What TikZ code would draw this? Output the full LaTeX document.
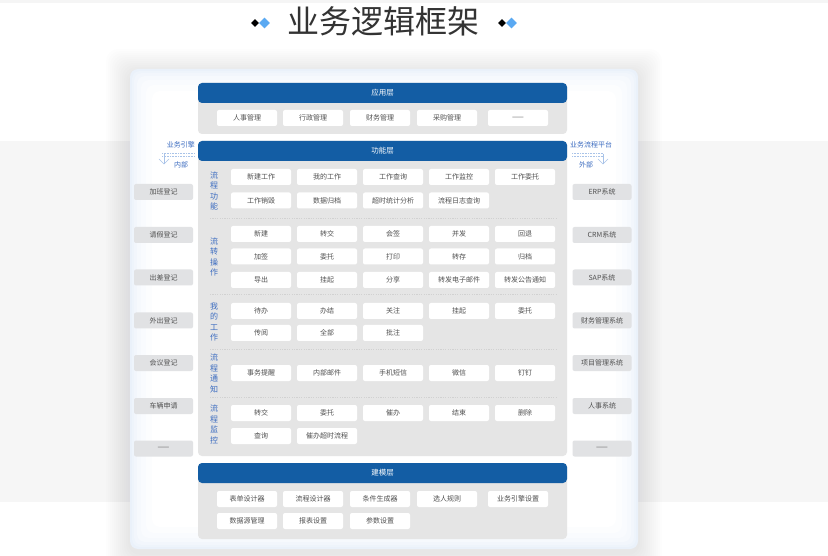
\documentclass[tikz,border=0pt]{standalone}
\usepackage{fontspec}
\setmainfont{Noto Sans CJK SC}
\usetikzlibrary{shapes.geometric}
\definecolor{hdrblue}{HTML}{135DA4}
\definecolor{bodygray}{HTML}{E5E5E5}
\definecolor{txtgray}{HTML}{505050}
\definecolor{lblblue}{HTML}{3C6CC0}
\definecolor{sidegray}{HTML}{E1E2E4}
\definecolor{bandgray}{HTML}{F6F6F6}
\definecolor{edgeblue}{HTML}{EAF1FA}
\definecolor{dotblue}{HTML}{A9C3E8}
\definecolor{diablue}{HTML}{5AA9F2}
\tikzset{
  cell/.style={fill=white, rounded corners=2pt, minimum width=60pt, minimum height=16pt, inner sep=0pt, font=\fontsize{7}{8}\selectfont, text=txtgray},
  sidebox/.style={fill=sidegray, rounded corners=2pt, minimum width=59pt, minimum height=16pt, inner sep=0pt, font=\fontsize{7}{8}\selectfont, text=txtgray},
  hdrtext/.style={text=white, font=\fontsize{7.5}{8}\selectfont},
  vlabel/.style={text=lblblue, align=center, font=\fontsize{8}{10.5}\selectfont, inner sep=0pt},
  sidelabel/.style={text=lblblue, font=\fontsize{7}{8}\selectfont, inner sep=0pt},
  sep/.style={draw=black!18, dash pattern=on 1.2pt off 1.2pt, line width=0.5pt},
  layerbody/.style={fill=bodygray, rounded corners=4pt},
  layerhead/.style={fill=hdrblue},
  titlefont/.style={font=\fontsize{32}{34}\selectfont, text=black!80},
  dia/.style={diamond, inner sep=0pt}
}
\begin{document}
\begin{tikzpicture}[x=1pt, y=-1pt]
\useasboundingbox (0,0) rectangle (828,556);
\fill[white] (0,0) rectangle (828,556);
\fill[black!4] (0,0) rectangle (828,3);
\fill[bandgray] (0,141) rectangle (828,502);
% card shadow (soft)
\foreach \i in {2,4,...,24}{
  \fill[black!60!blue, opacity=0.007, rounded corners=12pt] (130-\i,69-\i+4) rectangle (638+\i,549+\i+4);
}
\fill[edgeblue, rounded corners=8pt] (130,69) rectangle (638,549);
\foreach \i/\c in {2/80,4/62,7/45,11/28,16/14,22/0}{
  \fill[edgeblue!\c!white, rounded corners=8pt] (130+\i,69+\i) rectangle (638-\i,549-\i);
}
% title
\node[titlefont] (title) at (383,21) {业务逻辑框架};
\node[dia, fill=black, minimum size=8pt] (dl1) at (255,23) {};
\node[dia, fill=diablue, minimum size=11pt] (dl2) at (264.5,23) {};
\node[dia, fill=black, minimum size=8pt] (dr1) at (502,23) {};
\node[dia, fill=diablue, minimum size=11pt] (dr2) at (511.5,23) {};
% application layer
\fill[layerbody] (198,83) rectangle (567,134);
\fill[layerhead, rounded corners=4pt] (198,103) -- (198,83) -- (567,83) -- (567,103) -- cycle;
\node[hdrtext] (apph) at (382.5,93) {应用层};
\foreach \n/\x/\t in {a1/247/人事管理, a2/313/行政管理, a3/380/财务管理, a4/447/采购管理, a5/518/——}{
  \node[cell] (\n) at (\x,118) {\t};
}
% function layer
\fill[layerbody] (198,141) rectangle (567,456);
\fill[layerhead, rounded corners=4pt] (198,161) -- (198,141) -- (567,141) -- (567,161) -- cycle;
\node[hdrtext] (funh) at (382.5,151) {功能层};
% vertical labels
\node[vlabel] (v1) at (214,191) {流\\程\\功\\能};
\node[vlabel] (v2) at (214,257) {流\\转\\操\\作};
\node[vlabel] (v3) at (214,322) {我\\的\\工\\作};
\node[vlabel] (v4) at (214,373.5) {流\\程\\通\\知};
\node[vlabel] (v5) at (214,424.5) {流\\程\\监\\控};
% separators
\foreach \y in {218,294,349,397}{ \draw[sep] (210,\y) -- (556,\y); }
% rows
\foreach \n/\x/\t in {f11/261/新建工作, f12/327/我的工作, f13/393/工作查询, f14/459/工作监控, f15/525/工作委托}{\node[cell] (\n) at (\x,177) {\t};}
\foreach \n/\x/\t in {f21/261/工作销毁, f22/327/数据归档, f23/393/超时统计分析, f24/459/流程日志查询}{\node[cell] (\n) at (\x,200.5) {\t};}
\foreach \n/\x/\t in {g11/261/新建, g12/327/转交, g13/393/会签, g14/459/并发, g15/525/回退}{\node[cell] (\n) at (\x,234) {\t};}
\foreach \n/\x/\t in {g21/261/加签, g22/327/委托, g23/393/打印, g24/459/转存, g25/525/归档}{\node[cell] (\n) at (\x,256.5) {\t};}
\foreach \n/\x/\t in {g31/261/导出, g32/327/挂起, g33/393/分享, g34/459/转发电子邮件, g35/525/转发公告通知}{\node[cell] (\n) at (\x,280) {\t};}
\foreach \n/\x/\t in {m11/261/待办, m12/327/办结, m13/393/关注, m14/459/挂起, m15/525/委托}{\node[cell] (\n) at (\x,311) {\t};}
\foreach \n/\x/\t in {m21/261/传阅, m22/327/全部, m23/393/批注}{\node[cell] (\n) at (\x,333) {\t};}
\foreach \n/\x/\t in {t11/261/事务提醒, t12/327/内部邮件, t13/393/手机短信, t14/459/微信, t15/525/钉钉}{\node[cell] (\n) at (\x,373) {\t};}
\foreach \n/\x/\t in {c11/261/转交, c12/327/委托, c13/393/催办, c14/459/结束, c15/525/删除}{\node[cell] (\n) at (\x,413) {\t};}
\foreach \n/\x/\t in {c21/261/查询, c22/327/催办超时流程}{\node[cell] (\n) at (\x,436) {\t};}
% modeling layer
\fill[layerbody] (198,463) rectangle (567,539);
\fill[layerhead, rounded corners=4pt] (198,483) -- (198,463) -- (567,463) -- (567,483) -- cycle;
\node[hdrtext] (modh) at (382.5,473) {建模层};
\foreach \n/\x/\t in {b11/247/表单设计器, b12/313/流程设计器, b13/380/条件生成器, b14/447/选人规则, b15/518/业务引擎设置}{\node[cell] (\n) at (\x,499) {\t};}
\foreach \n/\x/\t in {b21/247/数据源管理, b22/313/报表设置, b23/380/参数设置}{\node[cell] (\n) at (\x,521) {\t};}
% side columns
\foreach \n/\y/\t in {l1/192/加班登记, l2/235/请假登记, l3/277.5/出差登记, l4/320.5/外出登记, l5/363/会议登记, l6/406/车辆申请, l7/448.5/——}{\node[sidebox] (\n) at (163.5,\y) {\t};}
\foreach \n/\y/\t in {r1/192/ERP系统, r2/235/CRM系统, r3/277.5/SAP系统, r4/320.5/财务管理系统, r5/363/项目管理系统, r6/406/人事系统, r7/448.5/——}{\node[sidebox] (\n) at (602,\y) {\t};}
% side labels
\node[sidelabel, anchor=east] (engl) at (195,145) {业务引擎};
\node[sidelabel] (inner) at (181,165) {内部};
\draw[dotblue, dash pattern=on 0.8pt off 0.8pt, line width=0.6pt] (162,153.5) -- (195,153.5);
\draw[dotblue, dash pattern=on 0.8pt off 0.8pt, line width=0.6pt] (162,156) -- (195,156);
\coordinate (inA) at (164,154);
\coordinate (inB) at (164,164);
\draw[dotblue, line width=0.6pt] (inA) -- (inB);
\draw[dotblue, line width=0.6pt] (159,159) -- (inB) -- (169,159);
\node[sidelabel, anchor=west] (platl) at (570,145) {业务流程平台};
\node[sidelabel] (outer) at (586,165) {外部};
\draw[dotblue, dash pattern=on 0.8pt off 0.8pt, line width=0.6pt] (572,153.5) -- (603,153.5);
\draw[dotblue, dash pattern=on 0.8pt off 0.8pt, line width=0.6pt] (572,156) -- (603,156);
\coordinate (outA) at (603,154);
\coordinate (outB) at (603,164);
\draw[dotblue, line width=0.6pt] (outA) -- (outB);
\draw[dotblue, line width=0.6pt] (598,159) -- (outB) -- (608,159);
\end{tikzpicture}
\end{document}
